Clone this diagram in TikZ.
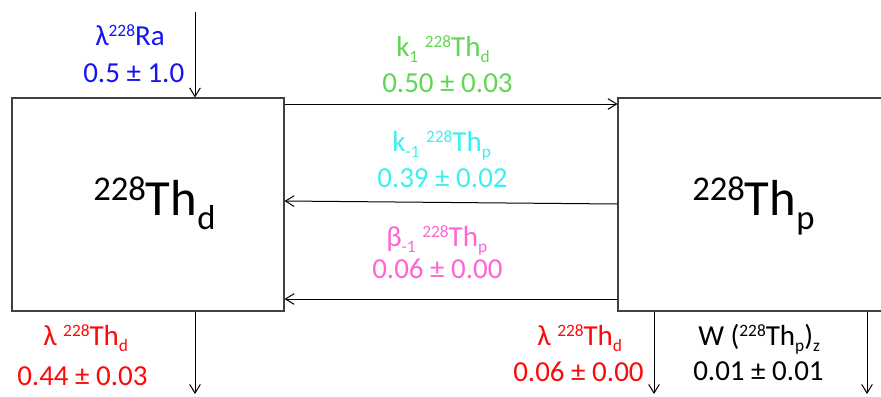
\documentclass[tikz,border=0pt]{standalone}
\usepackage{fontspec}
\setmainfont{Carlito}
\usetikzlibrary{arrows.meta}
\definecolor{cblue}{RGB}{20,20,245}
\definecolor{cgreen}{RGB}{95,215,85}
\definecolor{ccyan}{RGB}{60,240,240}
\definecolor{cpink}{RGB}{255,100,210}
\definecolor{cred}{RGB}{250,10,10}
\newcommand{\su}[1]{\raisebox{6.5pt}[0pt][0pt]{\fontsize{13}{13}\selectfont #1}}
\newcommand{\sd}[1]{\raisebox{-4.5pt}[0pt][0pt]{\fontsize{13}{13}\selectfont #1}}
\newcommand{\bu}[1]{\raisebox{11pt}{\fontsize{26}{26}\selectfont #1}}
\newcommand{\bd}[1]{\raisebox{-11pt}{\fontsize{26}{26}\selectfont #1}}
\begin{document}
\begin{tikzpicture}[x=0.75pt,y=-0.75pt,
  box/.style={draw=black!75,line width=0.8pt,minimum width=272*0.75pt,minimum height=213*0.75pt,inner sep=0pt},
  lab/.style={font=\fontsize{21.75}{22}\selectfont,inner sep=0pt,anchor=base west},
  big/.style={font=\fontsize{38}{40}\selectfont,inner sep=0pt,anchor=base west},
  arr/.style={-{Straight Barb[length=6.5pt,width=8pt]},line width=0.75pt}]
\useasboundingbox (0,0) rectangle (881,396);
\node[box] (lb) at (148,204.5) {};
\node[box] (rb) at (754,204.5) {};
\node[big] (lt) at (93,215) {\bu{228}Th\bd{d}};
\node[big] (rt) at (692,215) {\bu{228}Th\bd{p}};
% coordinates
\coordinate (top) at (195,12);
\coordinate (c1) at (0,104);
\coordinate (c2a) at (0,204);
\coordinate (c2b) at (0,201);
\coordinate (c3) at (0,299);
\coordinate (b1) at (195,394);
\coordinate (b2) at (654,394);
\coordinate (b3) at (867,394);
% arrows
\draw[arr] (top) -- (top |- lb.north);
\draw[arr] (lb.east |- c1) -- (rb.west |- c1);
\draw[arr] (rb.west |- c2a) -- (lb.east |- c2b);
\draw[arr] (rb.west |- c3) -- (lb.east |- c3);
\draw[arr] (b1 |- lb.south) -- (b1);
\draw[arr] (b2 |- rb.south) -- (b2);
\draw[arr] (b3 |- rb.south) -- (b3);
% labels
\node[lab,text=cblue] (t1) at (95,45) {λ\su{228}Ra};
\node[lab,text=cblue] (v1) at (83,82) {0.5 ± 1.0};
\node[lab,text=cgreen] (t2) at (396,56) {k\sd{1} \su{228}Th\sd{d}};
\node[lab,text=cgreen] (v2) at (382,92) {0.50 ± 0.03};
\node[lab,text=ccyan] (t3) at (392,151) {k\sd{-1} \su{228}Th\sd{p}};
\node[lab,text=ccyan] (v3) at (377,187) {0.39 ± 0.02};
\node[lab,text=cpink] (t4) at (386,246) {β\sd{-1} \su{228}Th\sd{p}};
\node[lab,text=cpink] (v4) at (372,278) {0.06 ± 0.00};
\node[lab,text=cred] (t5) at (43,345) {λ \su{228}Th\sd{d}};
\node[lab,text=cred] (v5) at (17,385) {0.44 ± 0.03};
\node[lab,text=cred] (t6) at (537,345) {λ \su{228}Th\sd{d}};
\node[lab,text=cred] (v6) at (513,381) {0.06 ± 0.00};
\node[lab,text=black] (t7) at (698,345) {W (\su{228}Th\sd{p})\sd{z}};
\node[lab,text=black] (v7) at (693,380) {0.01 ± 0.01};
\end{tikzpicture}
\end{document}
